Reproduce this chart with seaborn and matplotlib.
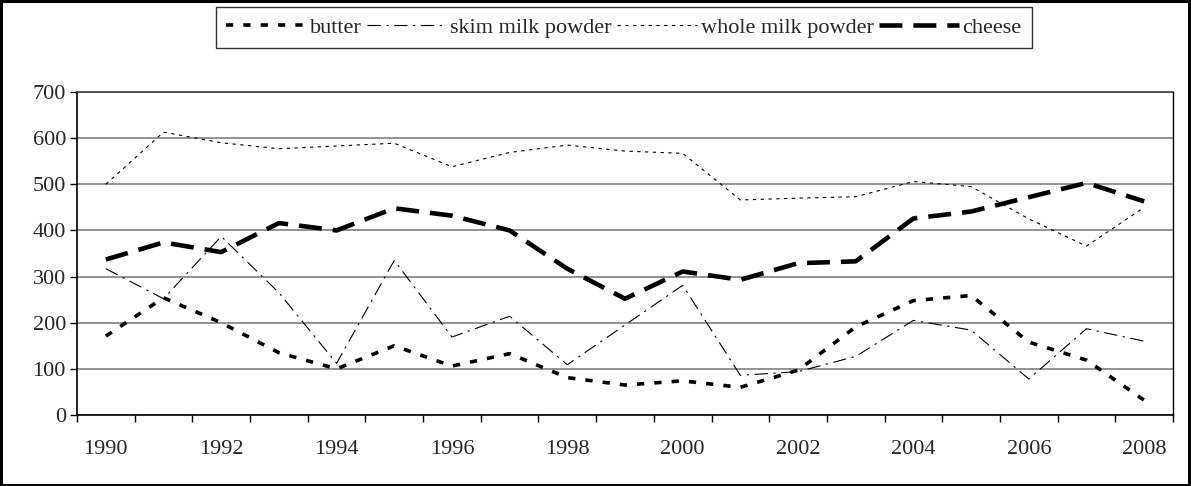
import matplotlib
matplotlib.use("Agg")
import matplotlib.pyplot as plt
from matplotlib.patches import Rectangle
from matplotlib.lines import Line2D
import seaborn as sns
import pandas as pd

# Annual dairy product series, 1990-2008
years = list(range(1990, 2009))
butter = [171, 254, 200, 135, 100, 150, 106, 133, 81, 65, 74, 60, 97, 191, 248, 259, 158, 119, 32]
skim_milk_powder = [317, 252, 387, 265, 112, 335, 169, 214, 109, 195, 281, 86, 94, 127, 205, 184, 78, 187, 160]
whole_milk_powder = [500, 613, 590, 577, 583, 589, 538, 569, 585, 572, 567, 466, 470, 473, 506, 495, 425, 366, 450]
cheese = [337, 374, 353, 416, 400, 448, 432, 400, 317, 252, 311, 293, 329, 333, 426, 441, 472, 503, 463]

series_names = ["butter", "skim milk powder", "whole milk powder", "cheese"]
y_ticks = [0, 100, 200, 300, 400, 500, 600, 700]

sns.set_style("white")
plt.rcParams["font.family"] = ["Liberation Serif", "DejaVu Serif"]

df = pd.DataFrame({
    "pos": range(len(years)),
    "butter": butter,
    "skim milk powder": skim_milk_powder,
    "whole milk powder": whole_milk_powder,
    "cheese": cheese,
})

styles = {
    "butter": dict(lw=2.6, ls=(0, (2.0, 2.8))),
    "skim milk powder": dict(lw=0.8, ls=(0, (12, 5, 2, 5))),
    "whole milk powder": dict(lw=0.8, ls=(0, (3, 4))),
    "cheese": dict(lw=3.3, ls=(0, (5.0, 2.4))),
}

fig = plt.figure(figsize=(11.91, 4.86), dpi=100)
ax = fig.add_axes([77 / 1191, 1 - 415 / 486, (1173 - 77) / 1191, (415 - 92) / 486])

for name in series_names:
    st = styles[name]
    sns.lineplot(data=df, x="pos", y=name, ax=ax, color="black",
                 linewidth=st["lw"], linestyle=st["ls"], label=None,
                 legend=False)

ax.set_xlim(-0.5, len(years) - 0.5)
ax.set_ylim(0, 700)
ax.set_xlabel("")
ax.set_ylabel("")

# Category boundaries carry the tick marks, even years carry the labels
ax.set_xticks([i - 0.5 for i in range(len(years) + 1)])
ax.set_xticklabels([])
ax.set_xticks([i for i, y in enumerate(years) if y % 2 == 0], minor=True)
ax.set_xticklabels([str(y) for y in years if y % 2 == 0], minor=True)
ax.tick_params(axis="x", which="major", direction="out", length=5, width=1, color="black", bottom=True)
ax.tick_params(axis="x", which="minor", length=0, pad=18, labelsize=16)

ax.set_yticks(y_ticks)
ax.set_yticklabels([str(v) for v in y_ticks])
ax.tick_params(axis="y", direction="out", length=5, width=1, color="black", left=True, pad=3, labelsize=16)

ax.yaxis.grid(True, color="#808080", linewidth=1.2)
ax.set_axisbelow(True)
for side in ["left", "bottom", "right", "top"]:
    ax.spines[side].set_visible(True)
    ax.spines[side].set_color("black")
    ax.spines[side].set_linewidth(1.2)
ax.spines["right"].set_linewidth(1.0)
ax.spines["top"].set_color("#404040")

handles = [Line2D([], [], color="black", linewidth=styles[n]["lw"], linestyle=styles[n]["ls"])
           for n in series_names]
leg = fig.legend(handles, series_names, loc="center",
                 bbox_to_anchor=((212 + 1036) / 2 / 1191, 1 - 27.5 / 486),
                 ncol=4, frameon=True, fancybox=False, fontsize=16,
                 handlelength=3.6, handletextpad=0.15, columnspacing=0.25,
                 borderpad=0.45, borderaxespad=0)
leg.get_frame().set_edgecolor("black")
leg.get_frame().set_linewidth(1.0)

# Outer chart border
fig.patches.append(Rectangle((0.001, 0.002), 0.997, 0.995, transform=fig.transFigure,
                             fill=False, edgecolor="black", linewidth=2.2))

fig.savefig("out.png", dpi=100)
